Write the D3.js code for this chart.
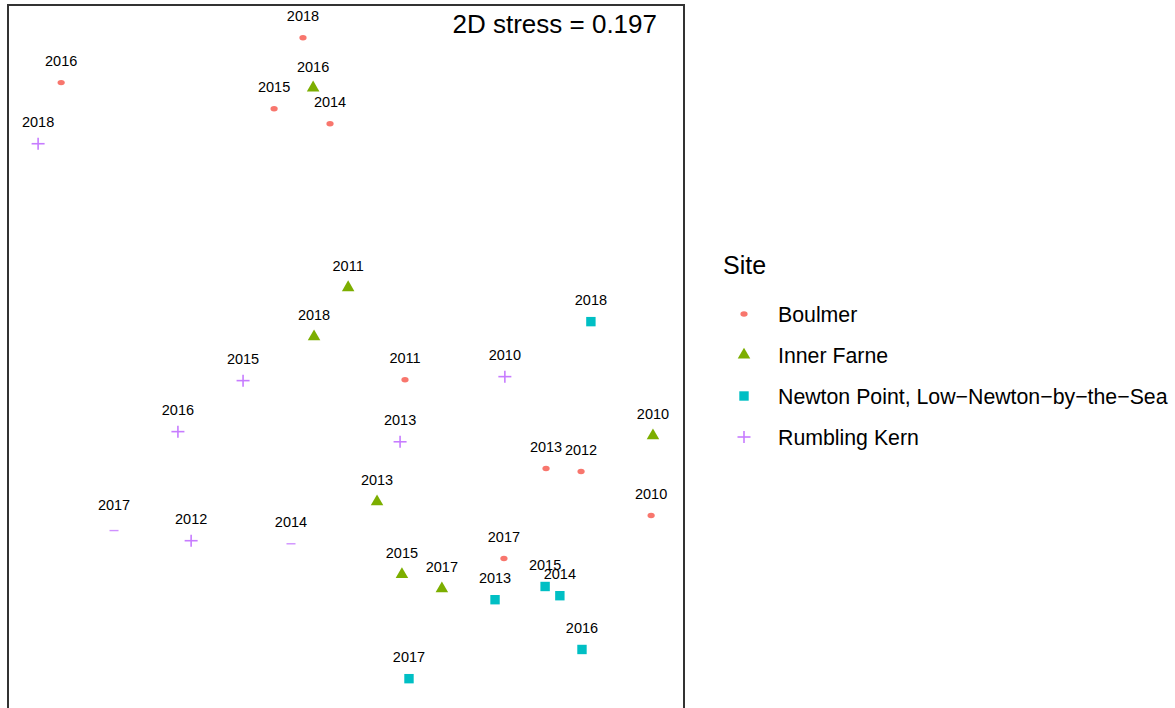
<!DOCTYPE html>
<html>
<head>
<meta charset="utf-8">
<script src="https://cdn.jsdelivr.net/npm/d3@7"></script>
<style>
  html, body { margin: 0; padding: 0; background: #fff; }
  svg { display: block; font-family: "Liberation Sans", Arial, Helvetica, sans-serif; }
</style>
</head>
<body>
<svg id="chart" width="1175" height="708"></svg>
<script>
// ---- Data (NMDS ordination scores) ----
const sites = ["Boulmer", "Inner Farne", "Newton Point, Low\u2212Newton\u2212by\u2212the\u2212Sea", "Rumbling Kern"];
const siteColors = ["#F8766D", "#7CAE00", "#00BFC4", "#C77CFF"];

const boulmerYears = [2018, 2016, 2015, 2014, 2011, 2013, 2012, 2010, 2017];
const boulmerNMDS1 = [-0.140, -0.927, -0.234, -0.052, 0.192, 0.651, 0.765, 0.993, 0.514];
const boulmerNMDS2 = [1.036, 0.890, 0.805, 0.756, -0.077, -0.366, -0.376, -0.519, -0.659];

const innerYears = [2016, 2011, 2018, 2013, 2015, 2017, 2010];
const innerNMDS1 = [-0.107, 0.007, -0.104, 0.101, 0.182, 0.312, 0.999];
const innerNMDS2 = [0.873, 0.223, 0.063, -0.474, -0.711, -0.757, -0.259];

const newtonYears = [2018, 2013, 2015, 2014, 2016, 2017];
const newtonNMDS1 = [0.797, 0.485, 0.648, 0.696, 0.768, 0.205];
const newtonNMDS2 = [0.112, -0.793, -0.750, -0.780, -0.955, -1.050];

const rumblingYears = [2018, 2015, 2016, 2013, 2010, 2012, 2017, 2014];
const rumblingNMDS1 = [-1.002, -0.335, -0.547, 0.176, 0.517, -0.504, -0.755, -0.179];
const rumblingNMDS2 = [0.691, -0.080, -0.246, -0.279, -0.067, -0.601, -0.568, -0.611];
// Rumbling Kern glyphs that appear as a bare dash in the reference
const rumblingDashYears = [2017, 2014];

const stressValue = 0.197;

// ---- Build table ----
const points = [];
function addSite(siteIdx, years, xs, ys) {
  years.forEach((yr, i) => points.push({ site: siteIdx, year: yr, x: xs[i], y: ys[i] }));
}
addSite(0, boulmerYears, boulmerNMDS1, boulmerNMDS2);
addSite(1, innerYears, innerNMDS1, innerNMDS2);
addSite(2, newtonYears, newtonNMDS1, newtonNMDS2);
addSite(3, rumblingYears, rumblingNMDS1, rumblingNMDS2);

// ---- Layout ----
const svg = d3.select("#chart");
const panel = { left: 8, top: 5, right: 684, bottom: 716 };

const xScale = d3.scaleLinear().domain([-1.1, 1.1]).range([panel.left, panel.right]);
const yScale = d3.scaleLinear().domain([-1.1715, 1.1425]).range([panel.bottom, panel.top]);

svg.append("rect").attr("x", 0).attr("y", 0).attr("width", 1175).attr("height", 708).attr("fill", "#fff");

const g = svg.append("g");

function drawGlyph(sel, site, cx, cy, isDash) {
  const col = siteColors[site];
  if (site === 0) {
    sel.append("ellipse").attr("cx", cx).attr("cy", cy).attr("rx", 3.6).attr("ry", 2.7).attr("fill", col);
  } else if (site === 1) {
    sel.append("path")
      .attr("d", d3.symbol().type(d3.symbolTriangle).size(68)())
      .attr("transform", `translate(${cx},${cy})`)
      .attr("fill", col);
  } else if (site === 2) {
    const h = 4.7;
    sel.append("rect").attr("x", cx - h).attr("y", cy - h).attr("width", 2 * h).attr("height", 2 * h).attr("fill", col);
  } else if (isDash) {
    sel.append("line").attr("x1", cx - 4.5).attr("x2", cx + 4.5).attr("y1", cy).attr("y2", cy)
      .attr("stroke", col).attr("stroke-width", 1.4).attr("stroke-opacity", 0.85);
  } else {
    const h = 6.5, v = 6;
    sel.append("line").attr("x1", cx - h).attr("x2", cx + h).attr("y1", cy).attr("y2", cy)
      .attr("stroke", col).attr("stroke-width", 1.6);
    sel.append("line").attr("x1", cx).attr("x2", cx).attr("y1", cy - v).attr("y2", cy + v)
      .attr("stroke", col).attr("stroke-width", 1.6);
  }
}

points.forEach(p => {
  const isDash = p.site === 3 && rumblingDashYears.includes(p.year);
  drawGlyph(g, p.site, xScale(p.x), yScale(p.y), isDash);
});

// Year labels (nudged above each point)
g.selectAll("text.lab").data(points).enter().append("text")
  .attr("class", "lab")
  .attr("x", d => xScale(d.x))
  .attr("y", d => yScale(d.y) - 16.3 - (d.site === 3 && d.year === 2017 ? 4 : 0))
  .attr("text-anchor", "middle")
  .attr("font-size", "14.5px")
  .attr("fill", "#000")
  .text(d => d.year);

// Stress annotation
svg.append("text")
  .attr("x", 657).attr("y", 33)
  .attr("text-anchor", "end")
  .attr("font-size", "26px")
  .attr("fill", "#000")
  .text(`2D stress = ${stressValue.toFixed(3)}`);

// Panel border
svg.append("rect")
  .attr("x", panel.left).attr("y", panel.top)
  .attr("width", panel.right - panel.left).attr("height", panel.bottom - panel.top)
  .attr("fill", "none").attr("stroke", "#333").attr("stroke-width", 2);

// Legend
const leg = svg.append("g");
leg.append("text").attr("x", 723).attr("y", 274).attr("font-size", "25px").attr("fill", "#000").text("Site");
const legY = d3.scaleLinear().domain([0, 3]).range([314, 437]);
sites.forEach((name, i) => {
  const ky = legY(i);
  drawGlyph(leg, i, 744, ky, false);
  leg.append("text").attr("x", 778).attr("y", ky + 7.5)
    .attr("font-size", "21.3px").attr("fill", "#000").text(name);
});
</script>
</body>
</html>
